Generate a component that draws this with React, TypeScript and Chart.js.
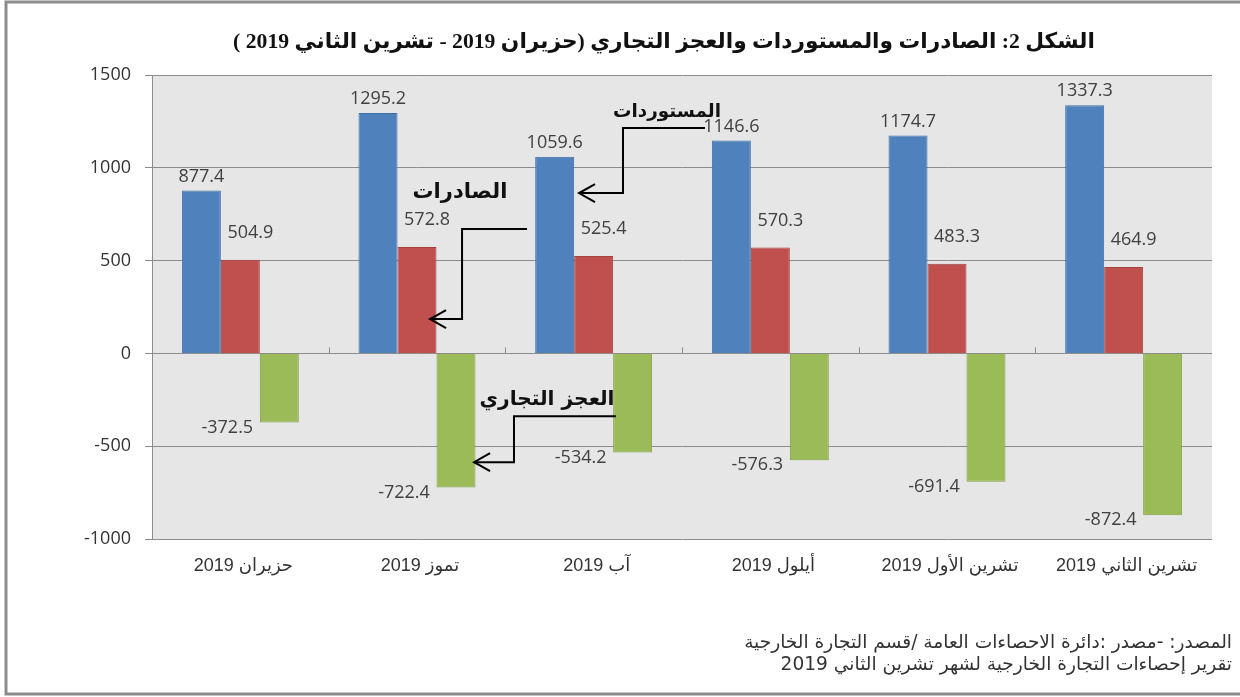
import React, { useEffect, useRef } from "react";
import { Chart, registerables } from "chart.js";

Chart.register(...registerables);

// ---------- data ----------
const categories = [
  "حزيران 2019",
  "تموز 2019",
  "آب 2019",
  "أيلول 2019",
  "تشرين الأول 2019",
  "تشرين الثاني 2019",
];
const seriesNames = ["المستوردات", "الصادرات", "العجز التجاري"];
const importsValues = [877.4, 1295.2, 1059.6, 1146.6, 1174.7, 1337.3];
const exportsValues = [504.9, 572.8, 525.4, 570.3, 483.3, 464.9];
const deficitValues = [-372.5, -722.4, -534.2, -576.3, -691.4, -872.4];
const yMin = -1000;
const yMax = 1500;
const yStep = 500;
const titleText =
  "الشكل 2: الصادرات والمستوردات والعجز التجاري (حزيران 2019 - تشرين الثاني 2019 )";
const sourceLines = [
  "المصدر: -مصدر :دائرة الاحصاءات العامة /قسم التجارة الخارجية",
  "تقرير إحصاءات التجارة الخارجية لشهر تشرين الثاني 2019",
];

// ---------- styles ----------
const COLORS = ["#4F81BD", "#C0504D", "#9BBB59"];
const BORDERS = ["#3F6EA6", "#A54240", "#83A046"];
const NUM_FONT = '"Open Sans", "DejaVu Sans", sans-serif';
const AR_FONT = '"DejaVu Sans", sans-serif';
const LABEL_FONT = '"Liberation Sans", "DejaVu Sans", sans-serif';

// label offsets per series (pixels relative to bar end)
const labelOffsets = [
  { dx: 0, dy: -14 },
  { dx: 10, dy: -27 },
  { dx: -52, dy: 5 },
];

// annotation callouts, anchored in (category index, value) space
const callouts = [
  {
    text: seriesNames[0],
    textAt: [2.415, 1300],
    path: [
      [2.63, 1214],
      [2.166, 1214],
      [2.166, 864],
      [1.917, 864],
    ],
    width: 108,
  },
  {
    text: seriesNames[1],
    textAt: [1.243, 864],
    path: [
      [1.623, 670],
      [1.255, 670],
      [1.255, 185],
      [1.074, 185],
    ],
    width: 95,
  },
  {
    text: seriesNames[2],
    textAt: [1.736, -252],
    path: [
      [2.126, -338],
      [1.549, -338],
      [1.549, -586],
      [1.323, -586],
    ],
    width: 135,
  },
];

function fitFont(ctx: CanvasRenderingContext2D, text: string, target: number, weight: string, family: string, base: number) {
  ctx.font = `${weight} ${base}px ${family}`;
  const w = ctx.measureText(text).width;
  let size = (base * target) / Math.max(1, w);
  size = Math.max(base * 0.7, Math.min(base * 1.3, size));
  return `${weight} ${size.toFixed(1)}px ${family}`;
}

const backgroundPlugin = {
  id: "bgPlugin",
  beforeDraw(chart: any) {
    const { ctx, chartArea } = chart;
    ctx.save();
    ctx.fillStyle = "#ffffff";
    ctx.fillRect(0, 0, chart.width, chart.height);
    ctx.fillStyle = "#E6E6E6";
    ctx.fillRect(chartArea.left, chartArea.top, chartArea.right - chartArea.left, chartArea.bottom - chartArea.top);
    ctx.strokeStyle = "#8C8C8C";
    ctx.lineWidth = 3;
    ctx.strokeRect(6, 2, chart.width + 20, chart.height - 5);
    ctx.restore();
  },
  beforeDatasetsDraw(chart: any) {
    const { ctx, chartArea, scales } = chart;
    const y0 = scales.y.getPixelForValue(0);
    const n = categories.length;
    const cw = (chartArea.right - chartArea.left) / n;
    ctx.save();
    ctx.strokeStyle = "#8C8C8C";
    ctx.lineWidth = 1;
    for (let k = 1; k < n; k++) {
      const x = Math.round(chartArea.left + k * cw) + 0.5;
      ctx.beginPath();
      ctx.moveTo(x, y0 - 6);
      ctx.lineTo(x, y0);
      ctx.stroke();
    }
    ctx.restore();
  },
};

const valueLabelPlugin = {
  id: "valueLabels",
  afterDatasetsDraw(chart: any) {
    const { ctx } = chart;
    ctx.save();
    ctx.font = `18px ${NUM_FONT}`;
    ctx.fillStyle = "#404040";
    ctx.textAlign = "center";
    ctx.textBaseline = "middle";
    chart.data.datasets.forEach((ds: any, i: number) => {
      const meta = chart.getDatasetMeta(i);
      const off = labelOffsets[i];
      meta.data.forEach((bar: any, j: number) => {
        const v = ds.data[j];
        ctx.fillText(v.toFixed(1), bar.x + off.dx, bar.y + off.dy);
      });
    });
    ctx.restore();
  },
};

const annotationPlugin = {
  id: "annotations",
  afterDraw(chart: any) {
    const { ctx, chartArea, scales } = chart;
    const n = categories.length;
    const cw = (chartArea.right - chartArea.left) / n;
    const X = (f: number) => chartArea.left + (f + 0.5) * cw;
    const Y = (v: number) => scales.y.getPixelForValue(v);

    // category labels (right-to-left)
    ctx.save();
    ctx.direction = "rtl";
    ctx.textAlign = "center";
    ctx.textBaseline = "middle";
    ctx.fillStyle = "#333";
    ctx.font = `18px ${LABEL_FONT}`;
    chart.data.labels.forEach((lab: string, i: number) => {
      ctx.fillText(lab, scales.x.getPixelForValue(i) + 3, chartArea.bottom + 27);
    });
    ctx.restore();

    // callouts
    callouts.forEach((c) => {
      ctx.save();
      ctx.strokeStyle = "#000";
      ctx.lineWidth = 2;
      ctx.beginPath();
      c.path.forEach((p, k) => {
        const x = X(p[0]);
        const y = Y(p[1]);
        if (k === 0) ctx.moveTo(x, y);
        else ctx.lineTo(x, y);
      });
      ctx.stroke();
      const tip = c.path[c.path.length - 1];
      const tx = X(tip[0]);
      const ty = Y(tip[1]);
      ctx.beginPath();
      ctx.moveTo(tx + 16, ty - 9);
      ctx.lineTo(tx, ty);
      ctx.lineTo(tx + 16, ty + 9);
      ctx.stroke();

      ctx.direction = "rtl";
      ctx.textAlign = "center";
      ctx.textBaseline = "middle";
      ctx.fillStyle = "#111";
      ctx.font = fitFont(ctx, c.text, c.width, "bold", AR_FONT, 20);
      ctx.fillText(c.text, X(c.textAt[0]), Y(c.textAt[1]));
      ctx.restore();
    });

    // title
    ctx.save();
    ctx.direction = "rtl";
    ctx.textAlign = "center";
    ctx.textBaseline = "middle";
    ctx.fillStyle = "#111";
    ctx.font = fitFont(ctx, titleText, 862, "bold", '"Liberation Serif", "DejaVu Sans", serif', 22);
    ctx.fillText(titleText, 664, 42);
    ctx.restore();

    // source
    ctx.save();
    ctx.direction = "rtl";
    ctx.textAlign = "right";
    ctx.textBaseline = "middle";
    ctx.fillStyle = "#333";
    ctx.font = fitFont(ctx, sourceLines[0], 487, "normal", AR_FONT, 15);
    ctx.fillText(sourceLines[0], 1232, 643);
    ctx.fillText(sourceLines[1], 1232, 665);
    ctx.restore();
  },
};

export default function App() {
  const ref = useRef<HTMLCanvasElement>(null);
  useEffect(() => {
    const canvas = ref.current;
    if (!canvas) return;
    const chart = new Chart(canvas, {
      type: "bar",
      data: {
        labels: categories,
        datasets: [importsValues, exportsValues, deficitValues].map((vals, i) => ({
          label: seriesNames[i],
          data: vals,
          backgroundColor: COLORS[i],
          borderColor: BORDERS[i],
          borderWidth: 1,
          barPercentage: 1,
          categoryPercentage: 0.662,
        })),
      },
      options: {
        responsive: false,
        animation: false,
        devicePixelRatio: 1,
        layout: { padding: { top: 75, right: 28, bottom: 0, left: 0 } },
        plugins: {
          legend: { display: false },
          title: { display: false },
          tooltip: { enabled: false },
        },
        scales: {
          x: {
            grid: { display: false },
            border: { display: false },
            ticks: { display: false },
            afterFit: (s: any) => {
              s.height = 158;
            },
          },
          y: {
            min: yMin,
            max: yMax,
            ticks: {
              stepSize: yStep,
              color: "#333",
              font: { family: NUM_FONT, size: 18 },
              padding: 14,
              callback: (v: any) => String(v),
            },
            grid: { color: "#8C8C8C", lineWidth: 1, tickLength: 7 },
            border: { color: "#8C8C8C" },
            afterFit: (s: any) => {
              s.width = 152;
            },
          },
        },
      },
      plugins: [backgroundPlugin, valueLabelPlugin, annotationPlugin],
    } as any);
    return () => chart.destroy();
  }, []);
  return (
    <div style={{ position: "fixed", left: 0, top: 0, width: 1240, height: 697, background: "#fff" }}>
      <canvas ref={ref} width={1240} height={697} style={{ display: "block" }} />
    </div>
  );
}
